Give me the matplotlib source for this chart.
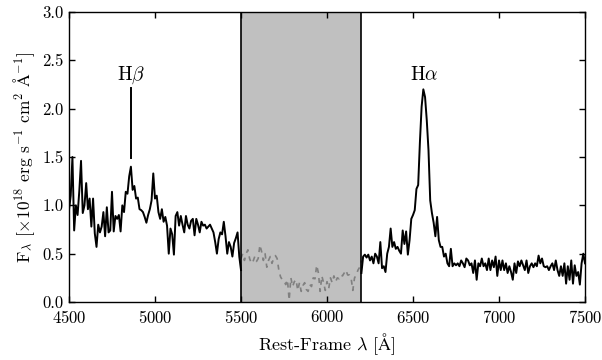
import numpy as np
import matplotlib
matplotlib.use("Agg")
import matplotlib.pyplot as plt

plt.rcParams["font.family"] = ["cmr10", "DejaVu Serif"]
plt.rcParams["mathtext.fontset"] = "cm"
plt.rcParams["axes.formatter.use_mathtext"] = True

# spectrum pieces, 10 A sampling
blue_range = (4500, 5500)
blue_flux = [
    0.95, 1.10, 1.50, 0.74, 1.00, 0.90, 1.15, 1.46, 0.92, 1.00,
    1.23, 0.96, 1.07, 0.78, 1.07, 0.71, 0.57, 0.80, 0.72, 0.78,
    0.93, 0.68, 0.98, 0.72, 0.74, 1.14, 0.73, 0.89, 0.86, 0.90,
    0.73, 1.00, 0.93, 1.14, 1.12, 1.30, 1.40, 1.16, 1.20, 1.07,
    1.08, 0.96, 0.95, 0.93, 0.88, 0.82, 0.90, 0.96, 1.05, 1.33,
    1.07, 1.10, 0.93, 0.86, 0.96, 0.83, 0.88, 0.79, 0.50, 0.76,
    0.70, 0.49, 0.89, 0.93, 0.79, 0.89, 0.80, 0.72, 0.89, 0.80,
    0.76, 0.84, 0.86, 0.69, 0.86, 0.80, 0.72, 0.83, 0.79, 0.80,
    0.76, 0.78, 0.80, 0.76, 0.72, 0.62, 0.50, 0.65, 0.72, 0.70,
    0.83, 0.68, 0.50, 0.62, 0.57, 0.47, 0.61, 0.66, 0.72, 0.47,
    0.33,
]

# masked region (dashed)
mask_range = (5500, 6200)
mask_flux = [
    0.45, 0.50, 0.43, 0.50, 0.54, 0.45, 0.40, 0.42, 0.47, 0.42,
    0.45, 0.59, 0.52, 0.43, 0.50, 0.36, 0.43, 0.47, 0.40, 0.45,
    0.48, 0.45, 0.33, 0.26, 0.23, 0.22, 0.18, 0.23, 0.02, 0.25,
    0.16, 0.21, 0.23, 0.12, 0.20, 0.11, 0.17, 0.20, 0.13, 0.11,
    0.18, 0.16, 0.25, 0.24, 0.38, 0.30, 0.11, 0.27, 0.20, 0.12,
    0.21, 0.14, 0.25, 0.20, 0.27, 0.21, 0.25, 0.24, 0.28, 0.27,
    0.30, 0.33, 0.28, 0.28, 0.25, 0.12, 0.25, 0.28, 0.33, 0.36,
    0.43,
]

red_range = (6200, 7500)
red_flux = [
    0.30, 0.47, 0.49, 0.46, 0.49, 0.43, 0.47, 0.40, 0.50, 0.47,
    0.40, 0.62, 0.35, 0.37, 0.31, 0.50, 0.57, 0.76, 0.57, 0.62,
    0.55, 0.57, 0.53, 0.50, 0.74, 0.60, 0.73, 0.49, 0.64, 0.86,
    0.90, 0.95, 1.17, 1.21, 1.65, 2.02, 2.20, 2.12, 1.88, 1.57,
    1.05, 0.92, 0.82, 0.68, 0.88, 0.64, 0.57, 0.57, 0.47, 0.50,
    0.40, 0.37, 0.55, 0.37, 0.40, 0.38, 0.40, 0.37, 0.43, 0.40,
    0.36, 0.45, 0.43, 0.38, 0.40, 0.30, 0.43, 0.23, 0.40, 0.37,
    0.45, 0.37, 0.40, 0.33, 0.45, 0.33, 0.43, 0.36, 0.47, 0.27,
    0.43, 0.33, 0.43, 0.33, 0.40, 0.30, 0.37, 0.31, 0.23, 0.40,
    0.30, 0.42, 0.37, 0.43, 0.38, 0.33, 0.43, 0.30, 0.37, 0.40,
    0.36, 0.40, 0.37, 0.48, 0.40, 0.45, 0.37, 0.36, 0.37, 0.33,
    0.37, 0.40, 0.33, 0.43, 0.33, 0.27, 0.37, 0.27, 0.40, 0.19,
    0.37, 0.23, 0.43, 0.19, 0.38, 0.27, 0.31, 0.18, 0.40, 0.50,
    0.40,
]

# line markers
hbeta_wave = 4861
hbeta_tick = (1.49, 2.21)
line_labels = ["H$\\beta$", "H$\\alpha$"]
line_waves = [4861, 6563]
label_y = 2.35


def main():
    fig = plt.figure(figsize=(6.02, 3.6), dpi=100)
    ax = fig.add_axes([0.1146, 0.1611, 0.8572, 0.8056])

    # grey band for the masked part
    ax.axvspan(mask_range[0], mask_range[1], facecolor="#c0c0c0",
               edgecolor="none", zorder=0)
    ax.axvline(mask_range[0], color="black", lw=1.2, zorder=3)
    ax.axvline(mask_range[1], color="black", lw=1.2, zorder=3)

    wb = np.linspace(blue_range[0], blue_range[1], len(blue_flux))
    wm = np.linspace(mask_range[0], mask_range[1], len(mask_flux))
    wr = np.linspace(red_range[0], red_range[1], len(red_flux))

    ax.plot(wb, blue_flux, color="black", lw=1.4, zorder=2)
    ax.plot(wm, mask_flux, color="#808080", lw=1.2, ls="--",
            dashes=(3, 3), zorder=2)
    ax.plot(wr, red_flux, color="black", lw=1.4, zorder=2)

    ax.plot([hbeta_wave, hbeta_wave], hbeta_tick, color="black", lw=1.4)
    for lab, w in zip(line_labels, line_waves):
        ax.text(w, label_y, lab, ha="center", va="center", fontsize=14)

    ax.set_xlim(4500, 7500)
    ax.set_ylim(0, 3.0)
    ax.set_xticks(np.arange(4500, 7501, 500))
    ax.set_yticks(np.arange(0, 3.01, 0.5))
    ax.set_yticklabels([f"{v:.1f}" for v in np.arange(0, 3.01, 0.5)])
    ax.tick_params(direction="in", top=True, right=True, length=4.5,
                   width=1.0, labelsize=12)
    ax.tick_params(axis="x", pad=5)
    ax.tick_params(axis="y", pad=4)
    for s in ax.spines.values():
        s.set_linewidth(1.0)

    ax.set_xlabel("Rest-Frame $\\lambda$ [$\\mathrm{\\AA}$]", fontsize=13)
    ax.set_ylabel("F$_\\lambda$ [$\\times10^{18}$ erg s$^{-1}$ cm$^{2}$ "
                  "$\\mathrm{\\AA}^{-1}$]", fontsize=12.5)

    fig.savefig("out.png", dpi=100)
    plt.close(fig)


if __name__ == "__main__":
    main()
